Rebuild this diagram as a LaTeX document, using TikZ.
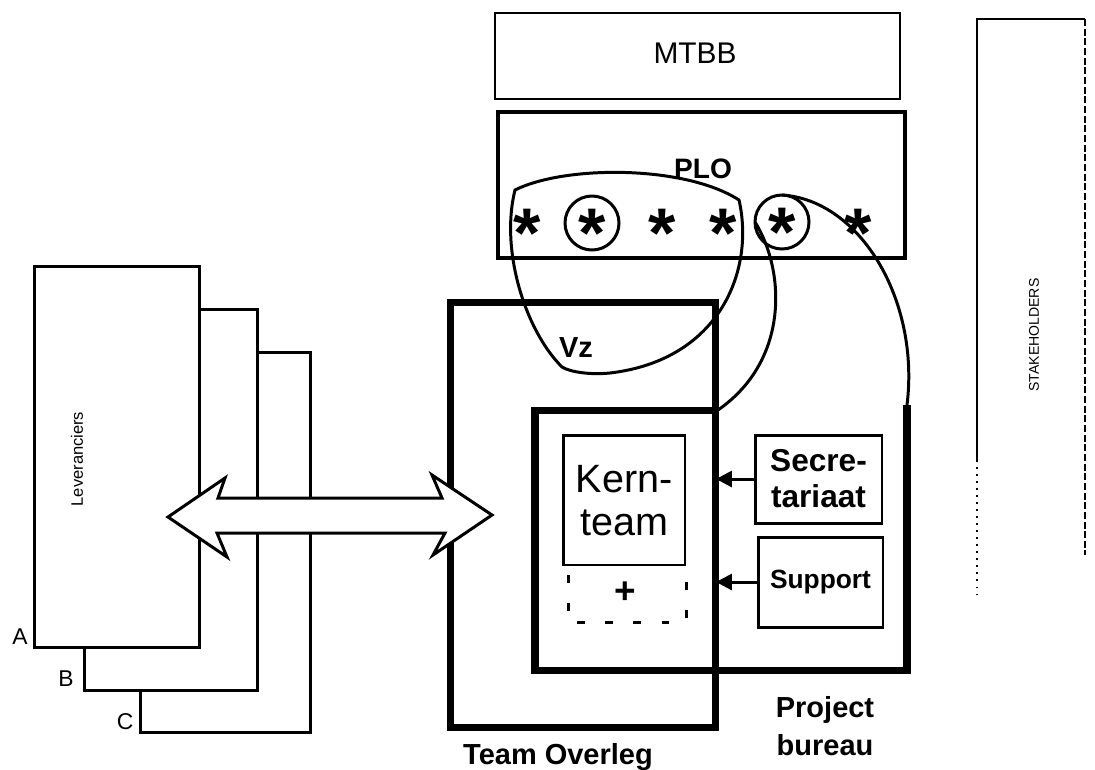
\documentclass[tikz,border=0pt]{standalone}
\usepackage{fontspec}
\setmainfont{Liberation Sans}
\usetikzlibrary{arrows.meta}
\newcommand\mystar{\raisebox{-0.5em}{*}}
\begin{document}
\begin{tikzpicture}[x=0.02cm,y=-0.02cm,
  every node/.style={inner sep=0pt, outer sep=0pt},
  lev/.style={draw, line width=1.7pt, fill=white, line join=miter},
  heavy/.style={draw, line width=4pt, line join=miter},
  medbox/.style={draw, line width=1.7pt},
  curveln/.style={draw, line width=1.7pt},
  pstar/.style={font=\bfseries\fontsize{40}{40}\selectfont, anchor=base},
  ring/.style={circle, draw, line width=1.7pt, minimum size=1.08cm},
  blab/.style={font=\bfseries\fontsize{16.5}{21.5}\selectfont, align=center},
  feed/.style={line width=1.7pt, -{Triangle[length=9pt,width=9pt]}}
]
\useasboundingbox (0,0) rectangle (1095,769);

% MTBB
\node[draw, line width=0.9pt, minimum width=8.1cm, minimum height=1.72cm] (mtbb) at (697.5,56) {};
\node[font=\fontsize{17}{19}\selectfont] (mtbbt) at (695,53) {MTBB};

% PLO
\node[draw, line width=2.3pt, minimum width=8.14cm, minimum height=2.92cm] (plo) at (701.5,185) {};
\node[font=\bfseries\fontsize{16}{18}\selectfont] (plot) at (703,169) {PLO};

% Stakeholders
\draw[line width=0.7pt] (977,460) -- (977,19) -- (1085,19);
\draw[line width=0.7pt, dash pattern=on 4pt off 1.5pt] (1085,19) -- (1085,555);
\draw[line width=0.7pt, dash pattern=on 1pt off 3pt] (977,460) -- (977,595);
\node[rotate=90, font=\fontsize{8}{10}\selectfont] (sh) at (1034,335) {STAKEHOLDERS};

% Leveranciers
\node[lev, minimum width=3.42cm, minimum height=7.62cm] (levC) at (225.5,542.5) {};
\node[lev, minimum width=3.48cm, minimum height=7.64cm] (levB) at (171,500) {};
\node[lev, minimum width=3.32cm, minimum height=7.64cm] (levA) at (117,457) {};
\node[rotate=90, font=\fontsize{9.4}{11}\selectfont] (levt) at (77,459) {Leveranciers};
\node[font=\fontsize{13}{15}\selectfont] (la) at (20,637) {A};
\node[font=\fontsize{13}{15}\selectfont] (lb) at (66,679) {B};
\node[font=\fontsize{13}{15}\selectfont] (lc) at (125,722) {C};

% Team Overleg
\node[heavy, minimum width=5.32cm, minimum height=8.52cm] (to) at (583,515) {};
\node[blab] (tot) at (558,757) {Team Overleg};

% Project bureau
\coordinate (pbA) at (718,410);
\coordinate (pbR) at (907,405);
\draw[heavy] (pbA) -- (535,410) -- (535,670) -- (907,670) -- (pbR);
\node[blab] (pbt) at (825,726) {Project\\bureau};

% Kern-team
\node[medbox, minimum width=2.44cm, minimum height=2.6cm] (kern) at (624,500) {};
\node[font=\fontsize{22.5}{24.5}\selectfont, align=center] (kernt) at (624,501) {Kern-\\team};
\draw[line width=1.7pt, dash pattern=on 4.5pt off 11.5pt] (568,575) -- (568,622) -- (686,622) -- (686,575);
\node[font=\bfseries\fontsize{21}{22}\selectfont] (plus) at (625,593) {+};

% Secretariaat / Support
\node[medbox, minimum width=2.54cm, minimum height=1.76cm] (sec) at (818.5,479) {};
\node[font=\bfseries\fontsize{18}{20.5}\selectfont, align=center] (sect) at (sec.center) {Secre-\\tariaat};
\node[medbox, minimum width=2.5cm, minimum height=1.8cm] (sup) at (820.5,582) {};
\node[font=\bfseries\fontsize{15}{17}\selectfont] (supt) at (sup.center) {Support};
\draw[feed] (sec.west) -- (sec.west -| to.east);
\draw[feed] (sup.west) -- (sup.west -| to.east);

% Double arrow
\draw[line width=1.7pt, fill=white, line join=miter] (168,517) -- (225,478) -- (218,498) -- (442,498) -- (432,475) -- (492,515) -- (433,555) -- (445,533) -- (217,533) -- (227,557) -- cycle;

% Stars and circles
\node[pstar] (s1) at (527,222) {\mystar};
\node[pstar] (s2) at (592,222) {\mystar};
\node[pstar] (s3) at (662,222) {\mystar};
\node[pstar] (s4) at (723,222) {\mystar};
\node[pstar] (s5) at (782,221) {\mystar};
\node[pstar] (s6) at (858,222) {\mystar};
\node[ring] (c2) at (592,223) {};
\node[ring] (c5) at (782,222) {};

% Vz
\draw[curveln] (515,190) .. controls (565,165) and (685,165) .. (739,200)
  .. controls (755,270) and (720,360) .. (610,373)
  .. controls (590,375) and (570,372) .. (562,367)
  .. controls (525,330) and (500,250) .. (515,190) -- cycle;
\node[font=\bfseries\fontsize{16.5}{18}\selectfont] (vz) at (576,348) {Vz};

% curves from circled member to project bureau
\draw[curveln] (c5.west) .. controls (785,270) and (790,360) .. (pbA);
\draw[curveln] (c5.north) .. controls (860,200) and (920,300) .. (pbR);
\end{tikzpicture}
\end{document}
